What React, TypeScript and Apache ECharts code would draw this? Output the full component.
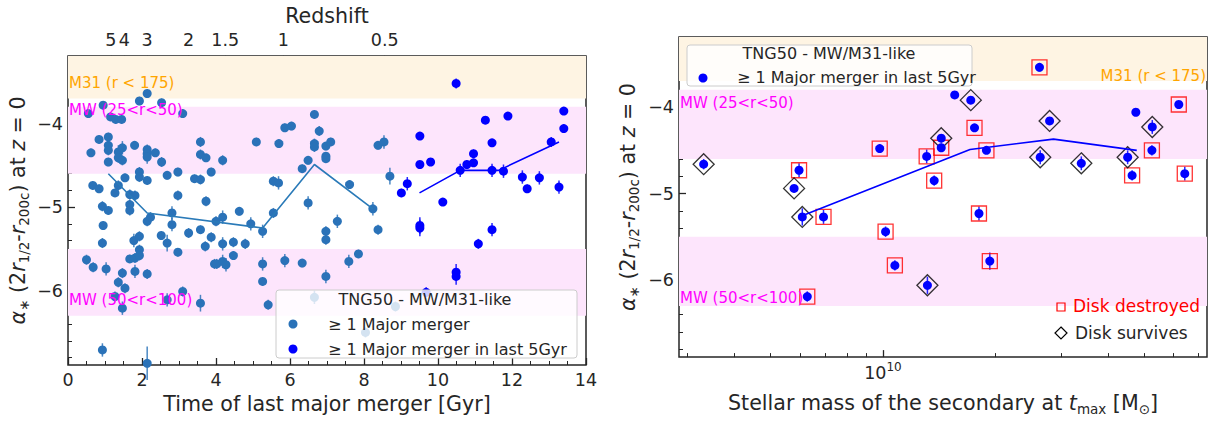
import React, { useEffect, useRef } from "react";
import * as echarts from "echarts";

const FONT = "'DejaVu Sans', sans-serif";
const INK = "#262626";
const C0 = "#2a72b8";
const BLUE = "#0000ff";
const TITLE_SIZE = 20.6;

// ---------- Left panel: [time of last major merger (Gyr), alpha*, error] ----------
const majorMerger: number[][] = [
  [0.95, -3.78, 0.05], [1.93, -3.73, 0.05], [2.14, -3.64, 0.05], [2.53, -3.75, 0.05], [0.55, -3.88, 0.05],
  [1.15, -3.92, 0.05], [1.29, -3.95, 0.05], [1.45, -3.95, 0.05], [3.10, -3.88, 0.05], [0.84, -4.19, 0.05],
  [1.09, -4.16, 0.05], [1.09, -4.26, 0.06], [1.09, -4.32, 0.06], [0.62, -4.35, 0.05], [1.36, -4.34, 0.08],
  [1.47, -4.29, 0.08], [1.36, -4.41, 0.06], [1.47, -4.44, 0.06], [1.09, -4.46, 0.05], [1.80, -4.26, 0.05],
  [2.14, -4.31, 0.06], [2.14, -4.36, 0.08], [2.14, -4.40, 0.08], [2.36, -4.35, 0.05], [2.53, -4.46, 0.06],
  [3.58, -4.22, 0.06], [3.58, -4.37, 0.06], [3.73, -4.41, 0.05], [1.93, -4.58, 0.06], [1.93, -4.64, 0.06],
  [2.14, -4.68, 0.05], [1.54, -4.65, 0.05], [2.68, -4.62, 0.05], [2.97, -4.58, 0.05], [3.42, -4.66, 0.05],
  [3.58, -4.67, 0.06], [3.87, -4.58, 0.05], [0.67, -4.74, 0.05], [0.84, -4.78, 0.05], [1.36, -4.74, 0.06],
  [1.27, -4.83, 0.05], [1.67, -4.85, 0.06], [1.81, -4.86, 0.06], [2.97, -4.86, 0.06], [3.73, -4.93, 0.06],
  [0.93, -4.99, 0.06], [1.09, -5.04, 0.05], [1.67, -4.97, 0.06], [1.67, -5.04, 0.06], [0.95, -5.22, 0.05],
  [2.14, -5.17, 0.06], [2.23, -5.12, 0.06], [2.81, -5.07, 0.08], [2.81, -5.21, 0.08], [2.52, -5.34, 0.05],
  [3.26, -5.31, 0.06], [3.58, -5.27, 0.05], [3.87, -5.36, 0.06], [0.93, -5.43, 0.06], [1.78, -5.40, 0.08],
  [1.93, -5.35, 0.06], [2.68, -5.43, 0.1], [3.71, -5.47, 0.06], [2.97, -5.54, 0.05], [1.93, -5.51, 0.06],
  [1.67, -5.62, 0.05], [1.81, -5.61, 0.06], [1.93, -5.58, 0.06], [0.50, -5.63, 0.06], [0.68, -5.72, 0.06],
  [1.03, -5.74, 0.08], [1.47, -5.79, 0.06], [1.81, -5.77, 0.08], [2.14, -5.80, 0.06], [1.36, -5.90, 0.06],
  [1.54, -5.97, 0.06], [1.27, -6.07, 0.06], [1.47, -6.21, 0.08], [2.68, -6.11, 0.08], [3.10, -6.01, 0.06],
  [3.58, -6.15, 0.1], [0.93, -6.71, 0.08], [2.14, -6.87, 0.2], [3.96, -5.68, 0.06],
  [4.18, -4.44, 0.06], [5.09, -4.22, 0.05], [5.70, -4.24, 0.05], [5.86, -4.05, 0.05], [6.04, -4.03, 0.05],
  [6.66, -3.89, 0.05], [6.79, -4.09, 0.06], [6.66, -4.24, 0.06], [6.66, -4.28, 0.06], [6.97, -4.27, 0.05],
  [7.10, -4.22, 0.05], [6.97, -4.39, 0.05], [6.97, -4.42, 0.05], [6.49, -4.44, 0.05], [6.33, -4.54, 0.05],
  [5.55, -4.69, 0.06], [5.69, -4.71, 0.08], [7.61, -4.73, 0.05], [6.49, -4.95, 0.08], [4.63, -5.05, 0.05],
  [4.18, -5.12, 0.08], [4.00, -5.17, 0.06], [4.94, -5.20, 0.08], [5.26, -5.29, 0.08], [5.55, -5.07, 0.06],
  [7.28, -5.17, 0.08], [6.97, -5.29, 0.06], [6.97, -5.39, 0.06], [4.18, -5.44, 0.08], [4.47, -5.42, 0.06],
  [4.79, -5.44, 0.06], [4.47, -5.58, 0.05], [4.02, -5.68, 0.06], [4.18, -5.65, 0.08], [4.27, -5.69, 0.08],
  [5.26, -5.68, 0.08], [5.86, -5.64, 0.08], [6.33, -5.67, 0.05], [7.59, -5.65, 0.08], [7.85, -5.56, 0.05],
  [5.26, -5.89, 0.05], [6.97, -5.83, 0.08], [5.41, -6.17, 0.06], [6.66, -6.08, 0.08],
  [8.38, -4.26, 0.05], [8.54, -4.22, 0.08], [8.70, -4.63, 0.1], [8.24, -5.02, 0.08], [8.38, -5.27, 0.06],
  [8.85, -6.19, 0.06], [8.04, -6.50, 0.06],
];

const recentMerger: number[][] = [
  [10.49, -3.52, 0.06], [11.28, -3.96, 0.04], [11.89, -3.91, 0.04], [13.40, -3.85, 0.04], [13.40, -4.06, 0.05],
  [9.51, -4.15, 0.04], [11.46, -4.23, 0.04], [13.06, -4.22, 0.06], [10.96, -4.36, 0.05], [9.51, -4.49, 0.04],
  [9.80, -4.46, 0.04], [10.78, -4.49, 0.05], [10.96, -4.47, 0.04], [10.60, -4.56, 0.08], [11.46, -4.56, 0.08],
  [11.77, -4.57, 0.08], [12.28, -4.64, 0.08], [12.41, -4.78, 0.05], [12.74, -4.65, 0.08], [13.27, -4.76, 0.08],
  [9.01, -4.83, 0.05], [9.17, -4.72, 0.08], [10.13, -4.94, 0.04], [9.51, -5.22, 0.1], [9.51, -5.25, 0.1],
  [11.46, -5.27, 0.08], [11.09, -5.44, 0.06], [10.49, -5.78, 0.1], [10.49, -5.83, 0.1], [9.68, -6.02, 0.06],
];

const medianMajor: number[][] = [[1.09, -4.60], [2.14, -5.07], [5.26, -5.25], [6.66, -4.49], [8.24, -5.02]];
const medianRecent: number[][] = [[9.50, -4.83], [10.60, -4.56], [11.64, -4.56], [13.27, -4.22]];

const redshiftLabels = ["5", "4", "3", "2", "1.5", "1", "0.5"];
const redshiftAges = [1.16, 1.52, 2.14, 3.26, 4.25, 5.82, 8.56];

// ---------- Right panel: [stellar mass of secondary (1e10 Msun), alpha*, error] ----------
const diskSurvives: number[][] = [
  [0.331, -4.66, 0.06], [0.578, -4.94, 0.04], [0.608, -5.27, 0.1], [1.315, -6.06, 0.1], [1.432, -4.36, 0.05],
  [1.718, -3.92, 0.04], [2.793, -4.16, 0.04], [2.636, -4.58, 0.08], [3.396, -4.65, 0.08], [4.519, -4.58, 0.08],
  [5.260, -4.23, 0.08],
];
const diskDestroyed: number[][] = [
  [0.596, -4.73, 0.08], [0.693, -5.27, 0.08], [0.627, -6.19, 0.06], [0.980, -4.48, 0.05], [1.016, -5.44, 0.06],
  [1.076, -5.83, 0.06], [1.309, -4.57, 0.08], [1.371, -4.85, 0.06], [1.432, -4.47, 0.05], [1.758, -4.24, 0.04],
  [1.892, -4.50, 0.04], [1.807, -5.23, 0.08], [1.932, -5.78, 0.1], [2.624, -3.54, 0.05], [4.645, -4.79, 0.06],
  [5.248, -4.50, 0.06], [6.194, -3.97, 0.04], [6.427, -4.77, 0.08],
];
const unflagged: number[][] = [[1.556, -3.86, 0.03], [4.753, -4.06, 0.03]];
const medianMass: number[][] = [[0.605, -5.26], [1.71, -4.49], [2.86, -4.37], [4.78, -4.50]];

const massMajorTicks = [1];
const massMinorTicks = [0.3, 0.4, 0.5, 0.6, 0.7, 0.8, 0.9, 2, 3, 4, 5, 6, 7];

const yMajor = [-6, -5, -4];
const yMinor: number[] = [];
for (let k = -34; k <= -16; k++) if (k % 5 !== 0) yMinor.push(k / 5);

const Y_MIN = -6.89;
const Y_MAX = -3.19;
const LM_MIN = 9.4538;
const LM_MAX = 10.8675;
const lm = (m: number) => Math.log10(m * 1e10);

const bands = [
  { from: -3.7, to: Y_MAX, color: "#fef4e3" },
  { from: -3.8, to: -4.6, color: "#fde5fc" },
  { from: -5.5, to: -6.3, color: "#fde5fc" },
];

const yTitle = "{i|α}{s|∗} (2{i|r}{s|1/2}-{i|r}{s|200c}) at {i|z} = 0";
const richTitle = {
  i: { fontStyle: "italic", fontSize: TITLE_SIZE, fontFamily: FONT, color: INK },
  s: { fontSize: 13.5, fontFamily: FONT, color: INK, verticalAlign: "bottom", lineHeight: 13 },
};

function errBars(color: string, xi: number, yi: number, data: number[][], opacity = 0.85) {
  return {
    type: "custom",
    xAxisIndex: xi,
    yAxisIndex: yi,
    silent: true,
    z: 3,
    data,
    encode: { x: 0, y: 1 },
    renderItem: (_p: any, api: any) => {
      const x = api.value(0);
      const y = api.value(1);
      const e = api.value(2);
      const a = api.coord([x, y - e]);
      const b = api.coord([x, y + e]);
      return {
        type: "line",
        shape: { x1: a[0], y1: a[1], x2: b[0], y2: b[1] },
        style: { stroke: color, lineWidth: 1.5, opacity },
      };
    },
  };
}

function bandSeries(xi: number, yi: number) {
  return {
    type: "scatter",
    xAxisIndex: xi,
    yAxisIndex: yi,
    data: [],
    silent: true,
    z: 1,
    markArea: {
      silent: true,
      data: bands.map((b) => [
        { yAxis: b.from, itemStyle: { color: b.color, opacity: 1 } },
        { yAxis: b.to },
      ]),
    },
  };
}

function yAxes(grid: number) {
  return [
    {
      gridIndex: grid,
      type: "value",
      min: Y_MIN,
      max: Y_MAX,
      position: "left",
      axisLine: { show: false },
      splitLine: { show: false },
      axisTick: { show: true, inside: true, length: 7, customValues: yMajor, lineStyle: { color: INK, width: 1.3 } },
      axisLabel: {
        customValues: yMajor,
        formatter: (v: number) => "−" + Math.abs(v),
        fontSize: 17.5,
        color: INK,
        fontFamily: FONT,
        margin: 5,
      },
      name: yTitle,
      nameLocation: "middle",
      nameRotate: 90,
      nameGap: grid === 0 ? 37 : 38,
      nameTextStyle: { fontSize: TITLE_SIZE, fontFamily: FONT, color: INK, lineHeight: 26, rich: richTitle },
    },
    {
      gridIndex: grid,
      type: "value",
      min: Y_MIN,
      max: Y_MAX,
      position: "left",
      axisLine: { show: false },
      splitLine: { show: false },
      axisLabel: { show: false },
      axisTick: { show: true, inside: true, length: 4, customValues: yMinor, lineStyle: { color: INK, width: 1 } },
    },
  ];
}

export default function App() {
  const ref = useRef<HTMLDivElement>(null);
  useEffect(() => {
    if (!ref.current) return;
    const chart = echarts.init(ref.current, undefined, { renderer: "svg" });
    const rightAll = [...diskSurvives, ...diskDestroyed, ...unflagged].map((p) => [lm(p[0]), p[1], p[2]]);

    const textStyle = (x: number, y: number, text: string, color: string, size: number, align = "left") => ({
      type: "text",
      x,
      y,
      z: 100,
      silent: true,
      style: { text, fill: color, fontSize: size, fontFamily: FONT, align, verticalAlign: "middle" },
    });

    const option: any = {
      animation: false,
      grid: [
        { left: 68, top: 46, width: 518, height: 319, show: true, borderColor: INK, borderWidth: 1.5, backgroundColor: "transparent" },
        { left: 679, top: 37, width: 528, height: 327, show: true, borderColor: INK, borderWidth: 1.5, backgroundColor: "transparent" },
      ],
      xAxis: [
        {
          gridIndex: 0,
          type: "value",
          min: 0,
          max: 14,
          interval: 2,
          position: "bottom",
          axisLine: { show: false },
          splitLine: { show: false },
          axisTick: { show: true, inside: true, length: 7, lineStyle: { color: INK, width: 1.3 } },
          minorTick: { show: true, splitNumber: 4, length: 4, lineStyle: { color: INK, width: 1 } },
          axisLabel: { fontSize: 17.5, color: INK, fontFamily: FONT, margin: 6 },
          name: "Time of last major merger [Gyr]",
          nameLocation: "middle",
          nameGap: 25,
          nameTextStyle: { fontSize: TITLE_SIZE, color: INK, fontFamily: FONT },
        },
        {
          gridIndex: 0,
          type: "value",
          min: 0,
          max: 14,
          position: "top",
          axisLine: { show: false },
          splitLine: { show: false },
          axisTick: { show: true, inside: true, length: 7, customValues: redshiftAges, lineStyle: { color: INK, width: 1.3 } },
          axisLabel: {
            customValues: redshiftAges,
            formatter: (v: number) => redshiftLabels[redshiftAges.indexOf(v)] ?? "",
            fontSize: 17.5,
            color: INK,
            fontFamily: FONT,
            margin: 7,
          },
          name: "Redshift",
          nameLocation: "middle",
          nameGap: 27,
          nameTextStyle: { fontSize: TITLE_SIZE, color: INK, fontFamily: FONT },
        },
        {
          gridIndex: 1,
          type: "value",
          min: LM_MIN,
          max: LM_MAX,
          position: "bottom",
          axisLine: { show: false },
          splitLine: { show: false },
          axisTick: { show: true, inside: true, length: 7, customValues: massMajorTicks.map(lm), lineStyle: { color: INK, width: 1.3 } },
          axisLabel: {
            customValues: massMajorTicks.map(lm),
            formatter: () => "{a|10}{s|10}",
            margin: 4,
            lineHeight: 24,
            rich: {
              a: { fontSize: 17.5, color: INK, fontFamily: FONT },
              s: { fontSize: 12, color: INK, fontFamily: FONT, verticalAlign: "top", lineHeight: 14 },
            },
          },
          name: "Stellar mass of the secondary at {i|t}{s|max} [M{s|⊙}]",
          nameLocation: "middle",
          nameGap: 26,
          nameTextStyle: { fontSize: TITLE_SIZE, color: INK, fontFamily: FONT, lineHeight: 26, rich: richTitle },
        },
        {
          gridIndex: 1,
          type: "value",
          min: LM_MIN,
          max: LM_MAX,
          position: "bottom",
          axisLine: { show: false },
          splitLine: { show: false },
          axisLabel: { show: false },
          axisTick: { show: true, inside: true, length: 4, customValues: massMinorTicks.map(lm), lineStyle: { color: INK, width: 1 } },
        },
      ],
      yAxis: [...yAxes(0), ...yAxes(1)],
      series: [
        bandSeries(0, 0),
        bandSeries(2, 2),
        errBars(C0, 0, 0, majorMerger),
        {
          type: "scatter",
          xAxisIndex: 0,
          yAxisIndex: 0,
          data: majorMerger.map((p) => [p[0], p[1]]),
          symbolSize: 9,
          itemStyle: { color: C0, opacity: 1 },
          silent: true,
          z: 4,
        },
        errBars(BLUE, 0, 0, recentMerger),
        {
          type: "scatter",
          xAxisIndex: 0,
          yAxisIndex: 0,
          data: recentMerger.map((p) => [p[0], p[1]]),
          symbolSize: 9,
          itemStyle: { color: BLUE, opacity: 1 },
          silent: true,
          z: 4,
        },
        {
          type: "line",
          xAxisIndex: 0,
          yAxisIndex: 0,
          data: medianMajor,
          showSymbol: false,
          silent: true,
          lineStyle: { color: "#2a7ab8", width: 1.6 },
          z: 5,
        },
        {
          type: "line",
          xAxisIndex: 0,
          yAxisIndex: 0,
          data: medianRecent,
          showSymbol: false,
          silent: true,
          lineStyle: { color: BLUE, width: 1.6 },
          z: 5,
        },
        {
          type: "scatter",
          xAxisIndex: 2,
          yAxisIndex: 2,
          data: diskDestroyed.map((p) => [lm(p[0]), p[1]]),
          symbol: "rect",
          symbolSize: 15,
          itemStyle: { color: "rgba(0,0,0,0)", borderColor: "#ff0000", borderWidth: 1.3 },
          silent: true,
          z: 3,
        },
        {
          type: "scatter",
          xAxisIndex: 2,
          yAxisIndex: 2,
          data: diskSurvives.map((p) => [lm(p[0]), p[1]]),
          symbol: "diamond",
          symbolSize: 21,
          itemStyle: { color: "rgba(0,0,0,0)", borderColor: "#000000", borderWidth: 1.3 },
          silent: true,
          z: 3,
        },
        errBars(BLUE, 2, 2, rightAll),
        {
          type: "scatter",
          xAxisIndex: 2,
          yAxisIndex: 2,
          data: rightAll.map((p) => [p[0], p[1]]),
          symbolSize: 9,
          itemStyle: { color: BLUE, opacity: 1 },
          silent: true,
          z: 4,
        },
        {
          type: "line",
          xAxisIndex: 2,
          yAxisIndex: 2,
          data: medianMass.map((p) => [lm(p[0]), p[1]]),
          showSymbol: false,
          silent: true,
          lineStyle: { color: BLUE, width: 1.6 },
          z: 5,
        },
      ],
      graphic: [
        // band labels
        textStyle(69, 83, "M31 (r < 175)", "#ffa500", 15),
        textStyle(69, 110, "MW (25<r<50)", "#ff00ff", 15),
        textStyle(69, 300, "MW (50<r<100)", "#ff00ff", 15),
        textStyle(1206, 76, "M31 (r < 175)", "#ffa500", 15, "right"),
        textStyle(680, 103, "MW (25<r<50)", "#ff00ff", 15),
        textStyle(680, 298, "MW (50<r<100)", "#ff00ff", 15),
        // left legend
        {
          type: "rect",
          z: 99,
          silent: true,
          shape: { x: 276, y: 290, width: 301, height: 68, r: 3 },
          style: { fill: "rgba(255,255,255,0.8)", stroke: "#cccccc", lineWidth: 1 },
        },
        textStyle(425, 299, "TNG50 - MW/M31-like", INK, 16, "center"),
        { type: "circle", z: 100, silent: true, shape: { cx: 293, cy: 324, r: 4.5 }, style: { fill: C0 } },
        textStyle(328, 324, "≥ 1 Major merger", INK, 16),
        { type: "circle", z: 100, silent: true, shape: { cx: 293, cy: 349, r: 4.5 }, style: { fill: BLUE } },
        textStyle(328, 349, "≥ 1 Major merger in last 5Gyr", INK, 16),
        // right legend
        {
          type: "rect",
          z: 99,
          silent: true,
          shape: { x: 687, y: 45, width: 285, height: 41, r: 3 },
          style: { fill: "rgba(255,255,255,0.8)", stroke: "#cccccc", lineWidth: 1 },
        },
        textStyle(829, 53, "TNG50 - MW/M31-like", INK, 16, "center"),
        { type: "circle", z: 100, silent: true, shape: { cx: 703, cy: 78, r: 4.5 }, style: { fill: BLUE } },
        textStyle(737, 77, "≥ 1 Major merger in last 5Gyr", INK, 16),
        // marker legend
        {
          type: "rect",
          z: 100,
          silent: true,
          shape: { x: 1057, y: 303, width: 8, height: 8 },
          style: { fill: "none", stroke: "#ff0000", lineWidth: 1.2 },
        },
        textStyle(1073, 306, "Disk destroyed", "#ff0000", 17),
        {
          type: "polygon",
          z: 100,
          silent: true,
          shape: { points: [[1061, 327], [1067, 333], [1061, 339], [1055, 333]] },
          style: { fill: "none", stroke: "#000000", lineWidth: 1.2 },
        },
        textStyle(1075, 333, "Disk survives", INK, 17),
      ],
    };
    chart.setOption(option);
    return () => chart.dispose();
  }, []);
  return (
    <div
      ref={ref}
      style={{ position: "fixed", left: 0, top: 0, width: 1217, height: 421, background: "#ffffff" }}
    />
  );
}
